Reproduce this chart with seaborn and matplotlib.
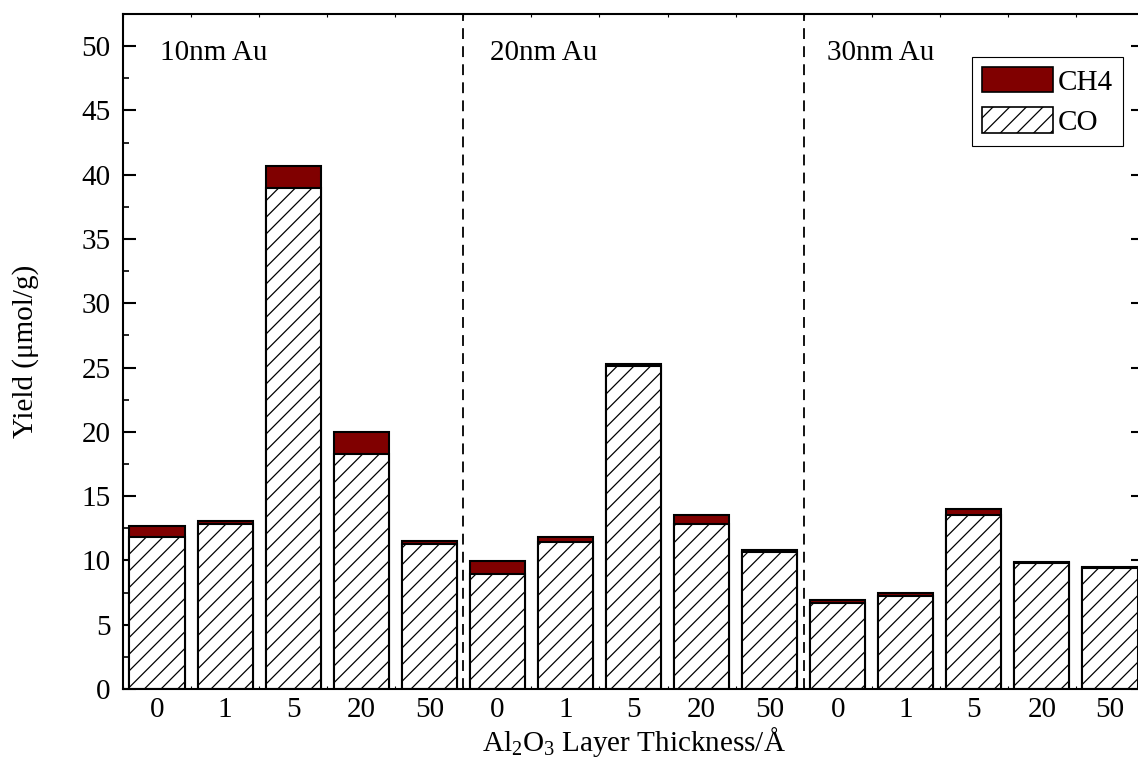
import numpy as np
import pandas as pd
import matplotlib
matplotlib.use("Agg")
import matplotlib.pyplot as plt
import seaborn as sns
from matplotlib.patches import Patch
from matplotlib.ticker import MultipleLocator

# ---- data ----
groups = ["10nm Au", "20nm Au", "30nm Au"]
thickness = ["0", "1", "5", "20", "50"]
co_yield = [11.8, 12.8, 39.0, 18.3, 11.25,
            8.95, 11.45, 25.1, 12.85, 10.65,
            6.7, 7.2, 13.55, 9.8, 9.45]
ch4_yield = [0.85, 0.3, 1.7, 1.7, 0.25,
             1.0, 0.35, 0.15, 0.65, 0.2,
             0.2, 0.3, 0.45, 0.05, 0.06]

sns.set_style("ticks")
plt.rcParams['font.family'] = ['Liberation Serif', 'DejaVu Serif']
plt.rcParams['mathtext.fontset'] = 'custom'
plt.rcParams['mathtext.rm'] = 'Liberation Serif'
plt.rcParams['mathtext.it'] = 'Liberation Serif:italic'
plt.rcParams['hatch.linewidth'] = 0.9
plt.rcParams['hatch.color'] = 'black'
for k in ['text.color', 'axes.labelcolor', 'xtick.color', 'ytick.color', 'axes.edgecolor']:
    plt.rcParams[k] = 'black'

keys = [f"{g}|{t}" for g in groups for t in thickness]
df = pd.DataFrame({
    "key": keys,
    "CO": co_yield,
    "CH4": ch4_yield,
})
df["total"] = df["CO"] + df["CH4"]

fig = plt.figure(figsize=(11.38, 7.59), dpi=100)
ax = fig.add_axes([123/1138, 1 - 689/759, (1144-123)/1138, (689-14)/759])

sns.barplot(data=df, x="key", y="total", order=keys, color="#800000",
            edgecolor="black", linewidth=1.5, width=0.81, saturation=1,
            errorbar=None, ax=ax)
sns.barplot(data=df, x="key", y="CO", order=keys, color="white",
            edgecolor="black", linewidth=1.5, width=0.81, saturation=1,
            errorbar=None, hatch="//", ax=ax)

fs = 21
ax.set_ylim(0, 52.5)
ax.set_xlim(-0.5, len(keys) - 0.5)
ax.set_xticks(range(len(keys)))
ax.set_xticklabels(thickness * len(groups), fontsize=fs)
ax.yaxis.set_major_locator(MultipleLocator(5))
ax.yaxis.set_minor_locator(MultipleLocator(2.5))
ax.xaxis.set_minor_locator(MultipleLocator(0.5))
ax.tick_params(axis='y', which='major', direction='in', length=9.5, width=1.5,
               labelsize=fs, pad=9, right=True)
ax.tick_params(axis='y', which='minor', direction='in', length=4.5, width=1.2, right=True)
ax.tick_params(axis='x', which='major', direction='in', length=2, width=0.8,
               labelsize=fs, pad=6, top=False)
ax.tick_params(axis='x', which='minor', direction='in', length=2, width=0.8, top=True)
for s in ax.spines.values():
    s.set_linewidth(1.5)
    s.set_visible(True)

ax.set_ylabel("Yield (μmol/g)", fontsize=fs)
ax.yaxis.set_label_coords((39-123)/1021, 0.5)
ax.set_xlabel(r"Al$_2$O$_3$ Layer Thickness/Å", fontsize=fs, labelpad=1)

for xv in [4.5, 9.5]:
    ax.axvline(xv, color="black", ls=(0, (6, 4)), lw=1.3)

label_x = [0.05, 4.885, 9.84]
for gx, g in zip(label_x, groups):
    ax.text(gx, 48.9, g, fontsize=fs, va="baseline", ha="left")

handles = [Patch(facecolor="#800000", edgecolor="black", linewidth=1.2, label="CH4"),
           Patch(facecolor="white", edgecolor="black", linewidth=1.2, hatch="//", label="CO")]
leg = ax.legend(handles=handles, loc="upper right",
                bbox_to_anchor=((1123-123)/1021, (689-57)/675), borderaxespad=0,
                fontsize=fs, fancybox=False, edgecolor="black", framealpha=1,
                handlelength=2.45, handleheight=0.95, handletextpad=0.15,
                labelspacing=0.4, borderpad=0.35)
leg.get_frame().set_linewidth(0.8)

fig.savefig("out.png", dpi=100)
